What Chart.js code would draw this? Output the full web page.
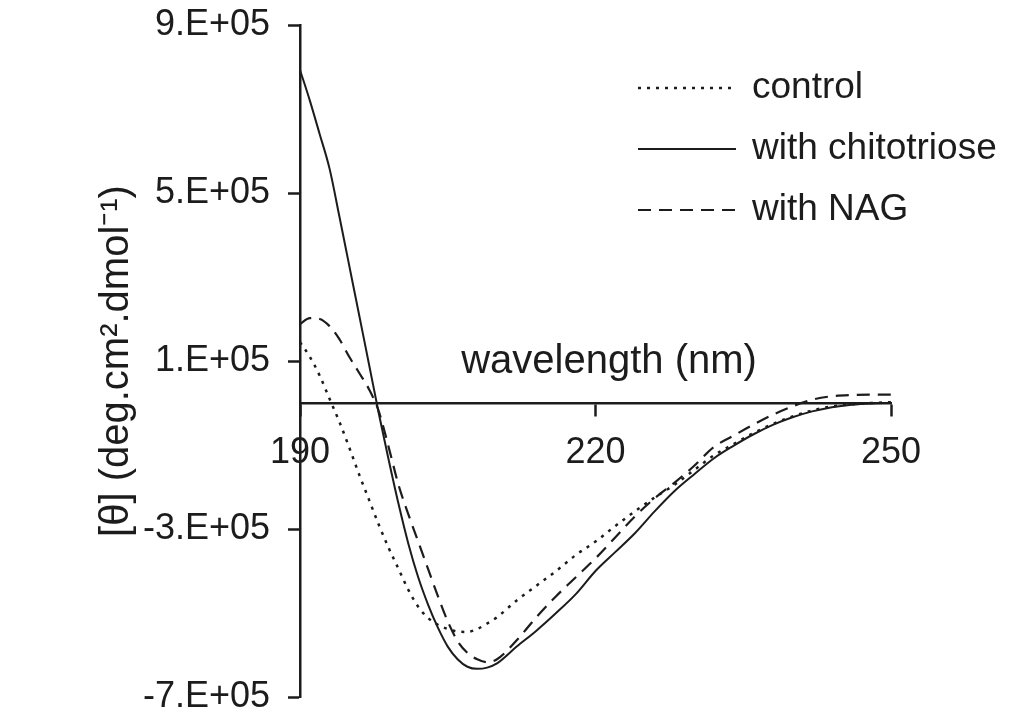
<!DOCTYPE html>
<html>
<head>
<meta charset="utf-8">
<script src="https://cdn.jsdelivr.net/npm/chart.js@4.4.0/dist/chart.umd.min.js"></script>
<style>
  html, body { margin: 0; padding: 0; background: #fff; }
</style>
</head>
<body>
<canvas id="cdChart" width="1013" height="713"></canvas>
<script>
// CD spectra, values
const wavelengths = [190, 191, 192, 193, 194, 195, 196, 197, 198, 199, 200, 201, 202, 203, 204, 205, 206, 207, 208, 209, 210,
  212, 214, 216, 218, 220, 222, 224, 226, 228, 230, 232, 234, 236, 238, 240, 242, 244, 246, 248, 250];
const control = [145000, 110000, 65000, 10000, -45000, -106000, -170000, -230000, -290000, -345000, -395000, -445000, -485000, -512000, -528000, -538000, -544000, -545000, -538000, -525000, -510000,
  -470000, -435000, -400000, -362000, -330000, -293000, -258000, -225000, -195000, -160000, -125000, -98000, -72000, -50000, -32000, -18000, -8000, -3000, 0, 2000];
const chitotriose = [793000, 720000, 640000, 558000, 444000, 327000, 210000, 93000, -25000, -135000, -240000, -335000, -415000, -480000, -535000, -580000, -610000, -628000, -633000, -630000, -620000,
  -580000, -542000, -500000, -455000, -400000, -355000, -310000, -258000, -210000, -170000, -132000, -102000, -75000, -52000, -34000, -20000, -10000, -4000, -1000, 0];
const withNag = [188000, 202000, 200000, 183000, 152000, 110000, 72000, 33000, -20000, -105000, -195000, -265000, -330000, -395000, -460000, -520000, -567000, -595000, -610000, -617000, -610000,
  -565000, -510000, -460000, -415000, -370000, -320000, -270000, -227000, -190000, -150000, -105000, -78000, -52000, -28000, -8000, 8000, 16000, 19000, 20000, 20000];
const seriesNames = ['control', 'with chitotriose', 'with NAG'];

const yTickValues = [-700000, -300000, 100000, 500000, 900000];
const yTickLabels = ['-7.E+05', '-3.E+05', '1.E+05', '5.E+05', '9.E+05'];
const xTickValues = [190, 220, 250];
const xTickLabels = ['190', '220', '250'];

const ink = '#1c1c1c';
const fontFamily = '"Liberation Sans", Arial, Helvetica, sans-serif';

function toPoints(values) {
  return wavelengths.map((w, i) => ({ x: w, y: values[i] }));
}

// legend drawn by hand: line sample + label, top right
const legendPlugin = {
  id: 'cdLegend',
  afterDraw(chart) {
    const ctx = chart.ctx;
    const rows = [88, 149, 210];
    ctx.save();
    chart.data.datasets.forEach((ds, i) => {
      ctx.beginPath();
      ctx.strokeStyle = ds.borderColor;
      ctx.lineWidth = ds.borderWidth;
      ctx.setLineDash(ds.borderDash || []);
      ctx.moveTo(638, rows[i]);
      ctx.lineTo(736, rows[i]);
      ctx.stroke();
      ctx.setLineDash([]);
      ctx.fillStyle = ink;
      ctx.font = '37px ' + fontFamily;
      ctx.textBaseline = 'middle';
      ctx.textAlign = 'left';
      ctx.fillText(ds.label, 752, rows[i]);
    });
    ctx.restore();
  }
};

// x axis title sits above the zero line
const xTitlePlugin = {
  id: 'xTitle',
  afterDraw(chart) {
    const ctx = chart.ctx;
    ctx.save();
    ctx.fillStyle = ink;
    ctx.font = '40px ' + fontFamily;
    ctx.textAlign = 'center';
    ctx.textBaseline = 'alphabetic';
    ctx.fillText('wavelength (nm)', 609, 373);
    ctx.restore();
  }
};

const ctx = document.getElementById('cdChart').getContext('2d');
const cdChart = new Chart(ctx, {
  type: 'line',
  data: {
    datasets: [
      { label: seriesNames[0], data: toPoints(control), borderColor: ink, borderWidth: 2.5, borderDash: [3, 6] },
      { label: seriesNames[1], data: toPoints(chitotriose), borderColor: ink, borderWidth: 2 },
      { label: seriesNames[2], data: toPoints(withNag), borderColor: ink, borderWidth: 2.2, borderDash: [13, 8] }
    ]
  },
  options: {
    responsive: false,
    animation: false,
    devicePixelRatio: 1,
    layout: { padding: { left: 80, top: 25, right: 122, bottom: 16 } },
    elements: {
      point: { radius: 0 },
      line: { cubicInterpolationMode: 'monotone', fill: false }
    },
    plugins: { legend: { display: false }, tooltip: { enabled: false } },
    scales: {
      x: {
        type: 'linear',
        position: { y: 0 },
        min: 190,
        max: 250,
        afterBuildTicks: (s) => { s.ticks = xTickValues.map(v => ({ value: v })); },
        afterFit: (s) => { s.paddingLeft = 0; s.paddingRight = 0; },
        grid: { drawOnChartArea: false, drawTicks: true, tickLength: 12, tickWidth: 2.5, tickColor: ink },
        border: { display: true, color: ink, width: 2.5 },
        ticks: {
          color: ink,
          padding: 16,
          maxRotation: 0,
          font: { family: fontFamily, size: 36 },
          callback: (v) => xTickLabels[xTickValues.indexOf(v)]
        }
      },
      y: {
        type: 'linear',
        min: -700000,
        max: 900000,
        afterBuildTicks: (s) => { s.ticks = yTickValues.map(v => ({ value: v })); },
        afterFit: (s) => { s.width = 220; s.paddingTop = 0; s.paddingBottom = 0; },
        grid: { drawOnChartArea: false, drawTicks: true, tickLength: 12, tickWidth: 2.5, tickColor: ink },
        border: { display: true, color: ink, width: 2.5 },
        ticks: {
          color: ink,
          padding: 18,
          font: { family: fontFamily, size: 36 },
          callback: (v) => yTickLabels[yTickValues.indexOf(v)]
        },
        title: {
          display: true,
          text: '[θ] (deg.cm².dmol⁻¹)',
          color: ink,
          padding: { top: 13, bottom: 0 },
          font: { family: fontFamily, size: 40 }
        }
      }
    }
  },
  plugins: [legendPlugin, xTitlePlugin]
});
</script>
</body>
</html>
